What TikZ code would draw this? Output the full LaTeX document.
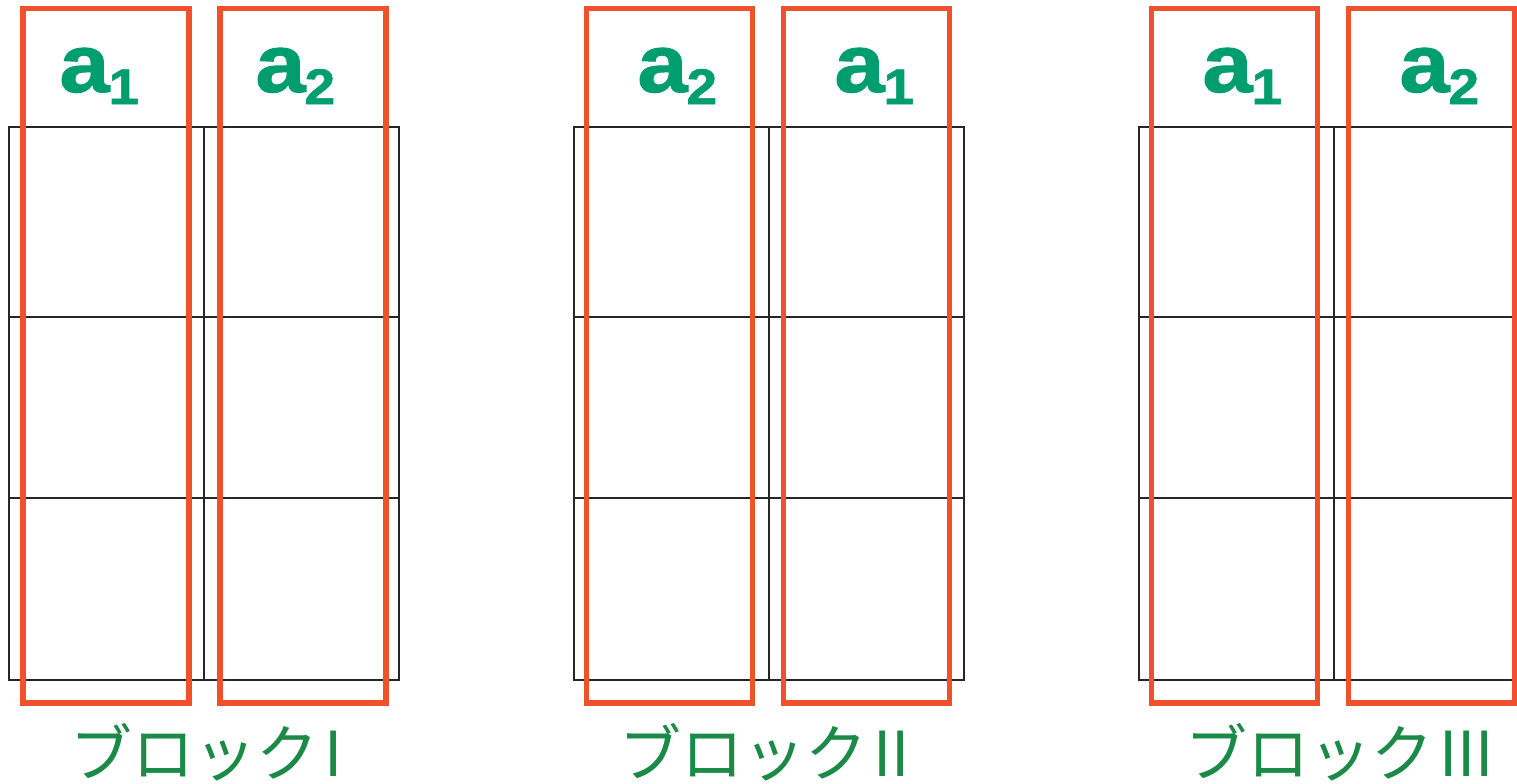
\documentclass[tikz,border=0pt]{standalone}
\usepackage{fontspec}
\setmainfont{Liberation Sans}
\newfontfamily\labfont[FakeBold=1.2,FakeStretch=1.1]{Liberation Sans Bold}
\newfontfamily\jpfont{Noto Sans CJK JP}
\definecolor{boxred}{RGB}{240,80,44}
\definecolor{labgreen}{RGB}{0,158,110}
\definecolor{blkgreen}{RGB}{26,138,70}
\tikzset{
  cellline/.style={draw=black!85,line width=0.7pt},
  colbox/.style={draw=boxred,line width=2.6pt},
  varlabel/.style={anchor=base west,inner sep=0pt,text=labgreen,font=\labfont\fontsize{41}{41}\selectfont},
  blklabel/.style={anchor=base west,inner sep=0pt,text=blkgreen,font=\jpfont\fontsize{31}{31}\selectfont}
}
\newcommand{\varsub}[1]{a\kern-0.5pt\raisebox{-6pt}{\fontsize{25}{25}\selectfont #1}}

\begin{document}
\begin{tikzpicture}[x=0.5pt,y=-0.5pt]
\clip (0,0) rectangle (1517,783);
\fill[white] (0,0) rectangle (1517,783);
% grids of the three blocks
\foreach \dx in {0,565,1130}{
  \foreach \cx in {9,204}{
    \draw[cellline] (\dx+\cx,127) rectangle (\dx+\cx+195,680);
    \draw[cellline] (\dx+\cx,317) -- (\dx+\cx+195,317);
    \draw[cellline] (\dx+\cx,498) -- (\dx+\cx+195,498);
  }
}
% red column boxes
\foreach \dx in {0,563.5,1128.5}{
  \draw[colbox] (\dx+23,8.5) rectangle (\dx+189,703);
  \draw[colbox] (\dx+220,8.5) rectangle (\dx+386,703);
}
\node[varlabel] (a1I) at (59,92) {\varsub{1}};
\node[varlabel] (a2I) at (255,92) {\varsub{2}};
\node[varlabel] (a2II) at (637,92) {\varsub{2}};
\node[varlabel] (a1II) at (834,92) {\varsub{1}};
\node[varlabel] (a1III) at (1202,92) {\varsub{1}};
\node[varlabel] (a2III) at (1399,92) {\varsub{2}};
\node[blklabel] (blkI) at (70,776) {ブロック\hspace{3pt}I};
\node[blklabel] (blkII) at (619,776) {ブロック\hspace{3pt}II};
\node[blklabel] (blkIII) at (1185,776) {ブロック\hspace{3pt}III};
\end{tikzpicture}
\end{document}
